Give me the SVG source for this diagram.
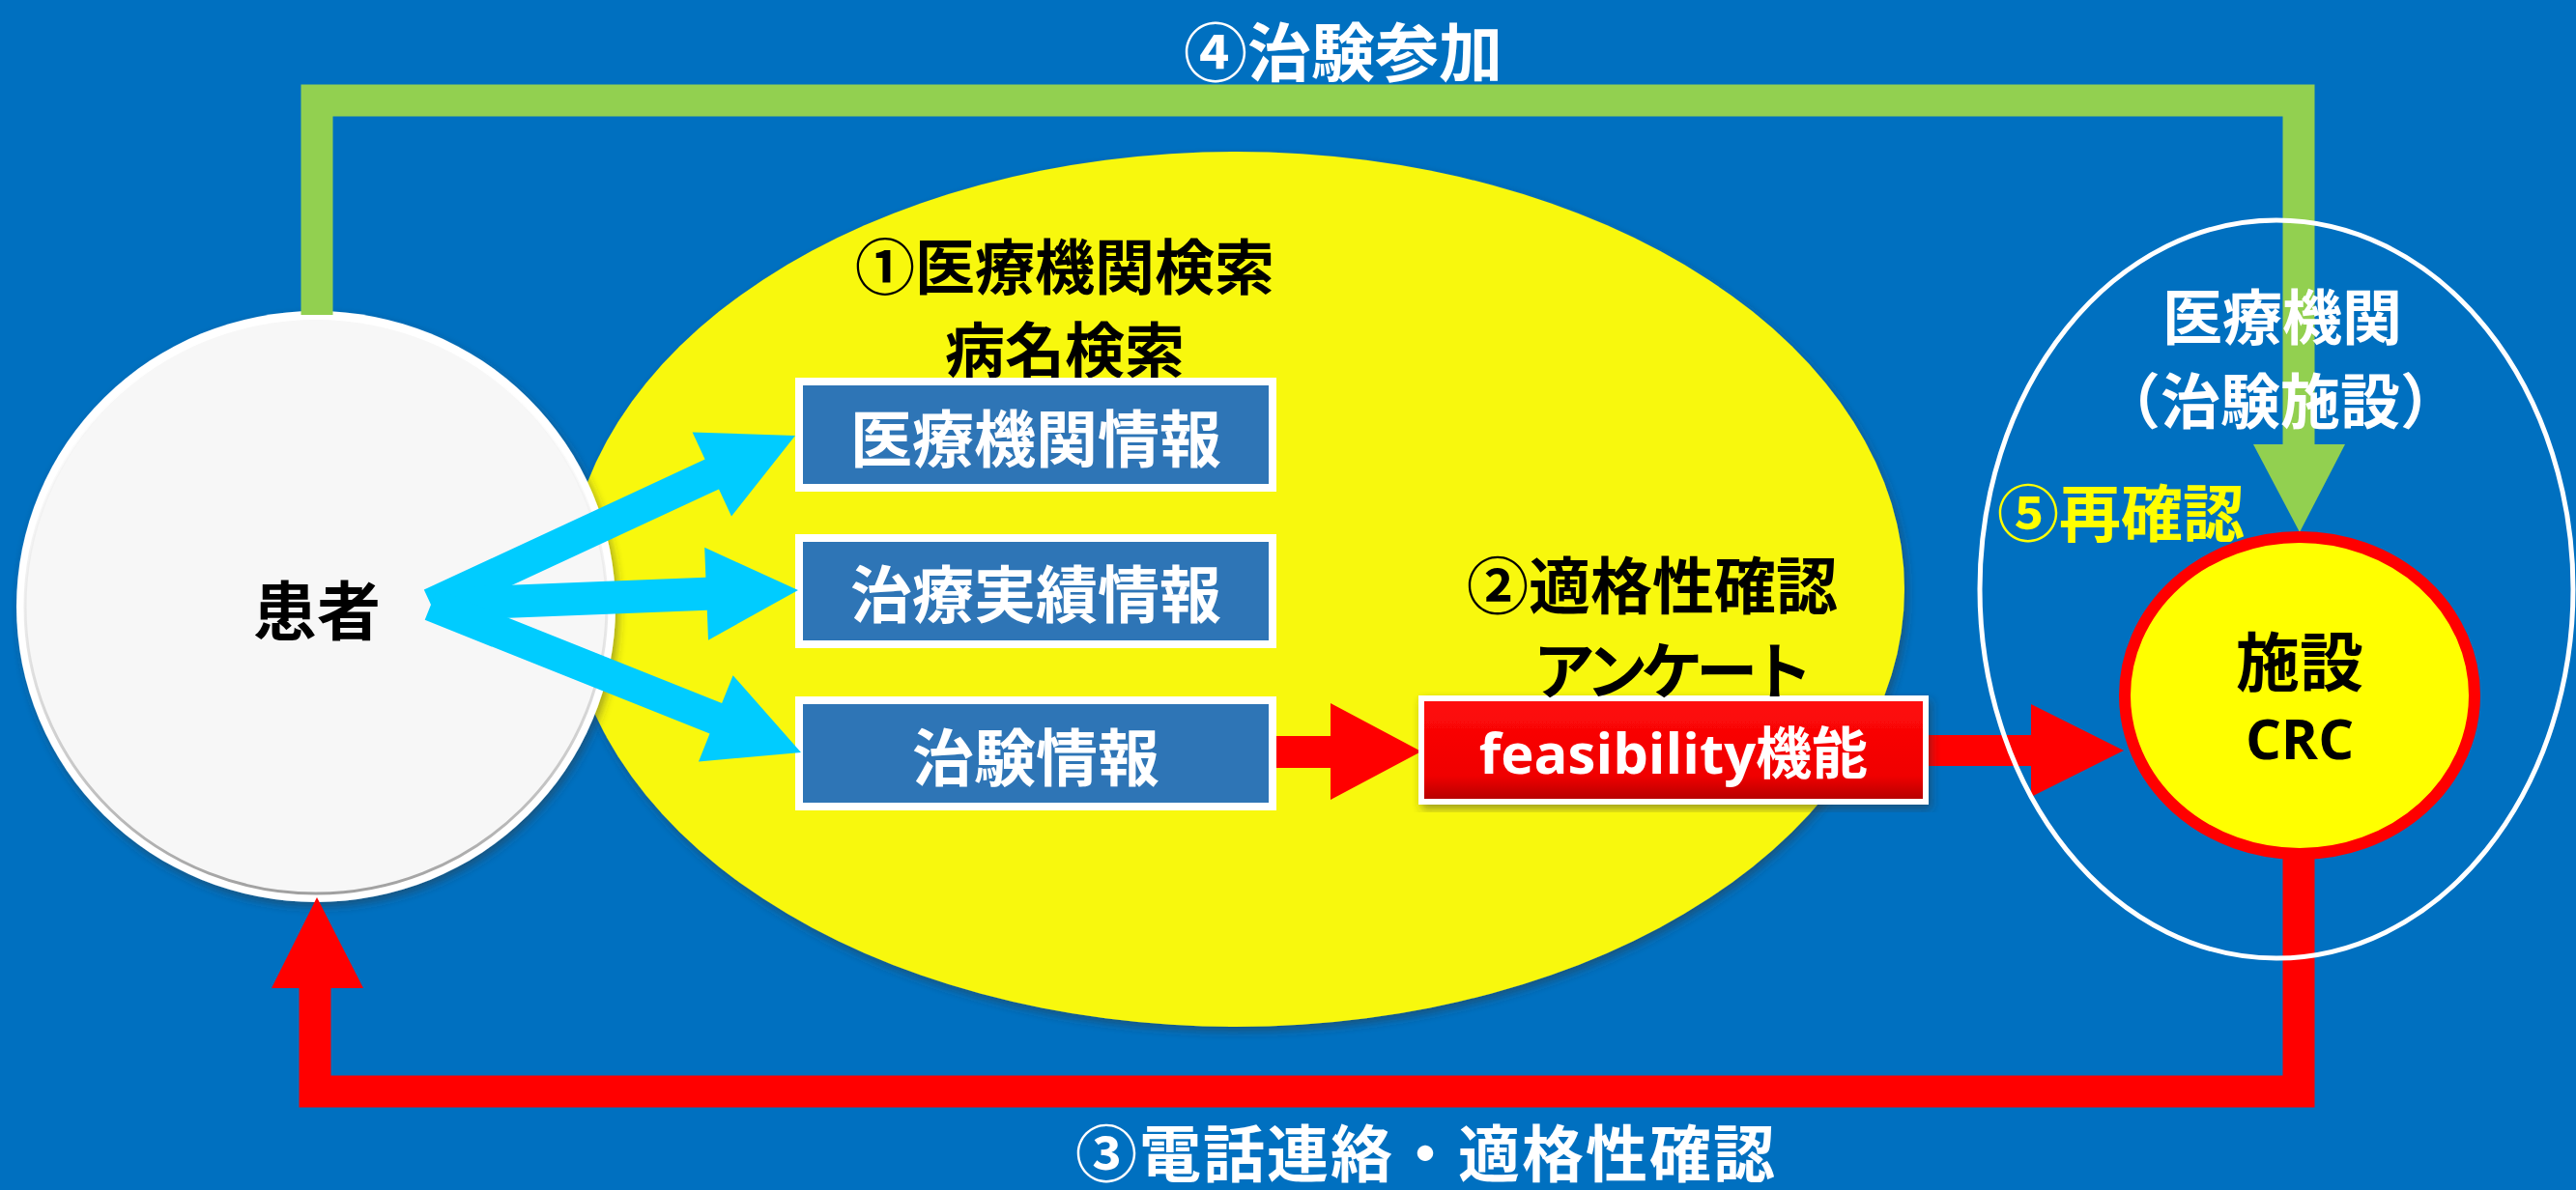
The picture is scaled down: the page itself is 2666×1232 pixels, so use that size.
<svg xmlns="http://www.w3.org/2000/svg" width="2666" height="1232" viewBox="0 0 2666 1232">
<style>
.jp{font-family:"Noto Sans CJK JP","Noto Sans CJK SC",sans-serif;font-weight:700;text-anchor:middle;dominant-baseline:central}
.lat{font-family:"Open Sans","Noto Sans CJK JP",sans-serif;font-weight:700;text-anchor:middle;dominant-baseline:central}
.blk{fill:#000}
.wht{fill:#fff}
.box{fill:#2E75B6;stroke:#fff;stroke-width:8}
.cyan{fill:#00CCFF}
.red{fill:#FF0000}
.green{fill:#92D050}
</style>
<defs>
<filter id="soft" x="-10%" y="-10%" width="120%" height="120%">
<feDropShadow dx="3" dy="5" stdDeviation="5" flood-color="#333" flood-opacity="0.45"/>
</filter>
<linearGradient id="redgrad" x1="0" y1="0" x2="0" y2="1">
<stop offset="0" stop-color="#FF0A0A"/>
<stop offset="0.75" stop-color="#F00000"/>
<stop offset="1" stop-color="#B00000"/>
</linearGradient>
<linearGradient id="rim" x1="0" y1="0" x2="0" y2="1">
<stop offset="0" stop-color="#ffffff" stop-opacity="0"/>
<stop offset="0.55" stop-color="#d8d8d8" stop-opacity="0.6"/>
<stop offset="1" stop-color="#a0a0a0" stop-opacity="1"/>
</linearGradient>
</defs>
<rect x="0" y="0" width="2666" height="1232" fill="#0070C0"/>

<g id="search-area">
<ellipse cx="1279" cy="610" rx="692" ry="453" fill="#F8F80A" filter="url(#soft)"/>
<text class="jp blk" x="1102" y="273" font-size="62">①医療機関検索</text>
<text class="jp blk" x="1102" y="359" font-size="62">病名検索</text>
</g>

<g id="info-medical">
<rect class="box" x="827" y="395" width="490" height="110"/>
<text class="jp wht" x="1072" y="450" font-size="64">医療機関情報</text>
</g>
<g id="info-treatment">
<rect class="box" x="827" y="557" width="490" height="110"/>
<text class="jp wht" x="1072" y="611" font-size="64">治療実績情報</text>
</g>
<g id="info-trial">
<rect class="box" x="827" y="725" width="490" height="110"/>
<text class="jp wht" x="1072" y="780" font-size="64">治験情報</text>
</g>

<g id="patient">
<ellipse cx="327" cy="628" rx="310" ry="306" fill="#ffffff" filter="url(#soft)"/>
<ellipse cx="327" cy="628" rx="301" ry="297" fill="#F7F7F7" stroke="url(#rim)" stroke-width="3"/>
<text class="jp blk" x="328" y="628" font-size="66">患者</text>
</g>

<g id="connectors">
<polyline points="328,326 328,104 2379,104 2379,462" fill="none" stroke="#92D050" stroke-width="33" stroke-linejoin="miter"/>
<polygon class="green" points="2332,460 2427,460 2380,551"/>
<polyline points="2379,885 2379,1130 326,1130 326,1021" fill="none" stroke="#FF0000" stroke-width="33" stroke-linejoin="miter"/>
<polygon class="red" points="281,1023 376,1023 328,929"/>
<polygon class="cyan" points="438.8,610.6 729.6,475.6 716.6,447.5 823,451 757,534.5 744,506.4 453.2,641.4"/>
<polygon class="cyan" points="445.3,609 730.4,597.7 729.2,566.7 826,611 733,662.7 731.8,631.7 446.7,643"/>
<polygon class="cyan" points="452.3,610.2 747.1,728 758.6,699.2 829,779 723,788.4 734.5,759.6 439.7,641.8"/>
<polygon class="red" points="1321,762 1377,762 1377,728 1471,778 1377,828 1377,795 1321,795"/>
<polygon class="red" points="1996,761 2102,761 2102,729 2198,777 2102,825 2102,793 1996,793"/>
</g>

<g id="feasibility">
<rect x="1471" y="723" width="522" height="107" fill="url(#redgrad)" stroke="#fff" stroke-width="6" filter="url(#soft)"/>
<text class="jp blk" x="1710" y="602" font-size="64">②適格性確認</text>
<text class="jp blk" x="1728" y="690" font-size="64" letter-spacing="-7">アンケート</text>
<text class="lat wht" x="1732" y="778" font-size="58">feasibility機能</text>
</g>

<g id="facility">
<ellipse cx="2356" cy="610" rx="307" ry="382" fill="none" stroke="#fff" stroke-width="5"/>
<text class="jp wht" x="2362" y="325" font-size="62">医療機関</text>
<text class="jp wht" x="2360" y="412" font-size="62">（治験施設）</text>
</g>

<g id="crc">
<ellipse cx="2380" cy="720" rx="181" ry="164" fill="#FFFF00" stroke="#FF0000" stroke-width="12"/>
<text class="jp blk" x="2380" y="681" font-size="66">施設</text>
<text class="lat blk" x="2380" y="763" font-size="58">CRC</text>
</g>

<g id="labels">
<text class="jp wht" x="1390" y="50" font-size="66">④治験参加</text>
<text class="jp wht" x="1476" y="1190" font-size="64" letter-spacing="2">③電話連絡・適格性確認</text>
<text class="jp" x="2195" y="527" font-size="64" fill="#FFFF00">⑤再確認</text>
</g>
</svg>
